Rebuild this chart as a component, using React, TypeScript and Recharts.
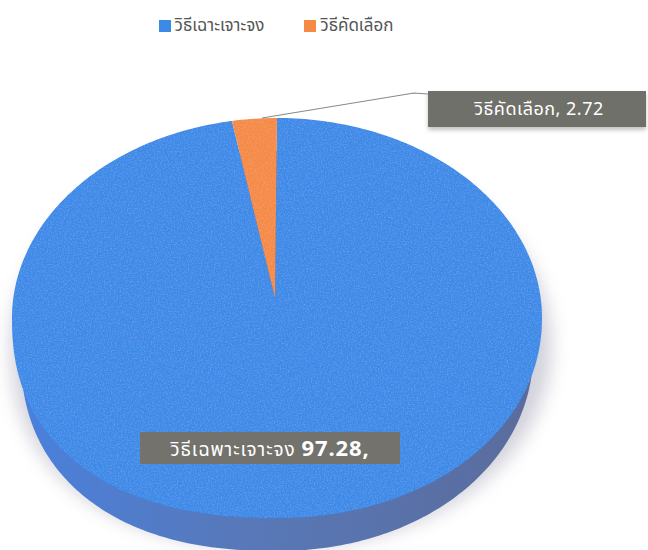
import React from "react";
import { PieChart, Pie, Legend } from "recharts";

const categories = ["วิธีเฉาะเจาะจง", "วิธีคัดเลือก"];
const values = [97.28, 2.72];
const colors = ["#3A8AE8", "#F58A45"];
const boxNames = ["วิธีเฉพาะเจาะจง", "วิธีคัดเลือก,"];
const boxValues = ["97.28,", "2.72"];

const data = categories.map((name, i) => ({ name, value: values[i], fill: colors[i] }));
const FONT = "'Noto Sans', 'Noto Sans Thai', 'DejaVu Sans', sans-serif";
const RATIO = 200 / 265;

function ellipseSector(p: any, ox: number, oy: number, ax: number, ay: number, rxScale: number, ryScale: number) {
  const rx = p.outerRadius * rxScale;
  const ry = p.outerRadius * RATIO * ryScale;
  const rad = Math.PI / 180;
  const cx = p.cx + ox;
  const cy = p.cy + oy;
  const pt = (a: number) => {
    const c = Math.cos(a * rad);
    const s = Math.sin(a * rad);
    // the photographed disc is fuller in its lower-left quarter
    const n = s >= 0 ? 2 : c < 0 ? 2.3 : 2.05;
    const e = 2 / n;
    return `${cx + rx * Math.sign(c) * Math.pow(Math.abs(c), e)},${cy - ry * Math.sign(s) * Math.pow(Math.abs(s), e)}`;
  };
  const pts: string[] = [];
  const step = p.endAngle < p.startAngle ? -1 : 1;
  for (let a = p.startAngle; step * (p.endAngle - a) > 0; a += step) pts.push(pt(a));
  pts.push(pt(p.endAngle));
  return `M${cx + ax},${cy + ay} L${pts.join(" L")} Z`;
}

const faceShape = (p: any) => (
  <path d={ellipseSector(p, 0, 0, -2, -20, 1, 1)} fill={p.fill} stroke="none" filter="url(#grain)" />
);

const rimShape = (p: any) => (
  <g>
    <path d={ellipseSector(p, 4, 26, 0, 0, 1.02, 1.02)} fill="#a4a4b8" opacity={0.5} filter="url(#soft)" />
    <path d={ellipseSector(p, 0, 33, 0, 0, 0.967, 1)} fill="url(#rim)" stroke="none" />
  </g>
);

const renderLabel = (p: any) => {
  const i = p.index;
  if (i === 1) {
    return (
      <g>
        <polyline points="262,118 414,93 428,94" fill="none" stroke="#8a8a84" strokeWidth={1.2} />
        <rect x={428} y={91} width={218} height={36} fill="#6F6F6A" filter="url(#boxShadow)" />
        <text x={539} y={115} textAnchor="middle" fontSize={18} letterSpacing={0.5} fill="#fff" fontFamily={FONT}>
          {boxNames[i]} {boxValues[i]}
        </text>
      </g>
    );
  }
  return (
    <g>
      <rect x={140} y={432} width={260} height={32} fill="#74726C" />
      <text x={270} y={456} textAnchor="middle" fontSize={19} letterSpacing={0.9} fill="#fff" fontFamily={FONT}>
        {boxNames[i]} <tspan fontSize={22} fontWeight={700}>{boxValues[i]}</tspan>
      </text>
    </g>
  );
};

export default function App() {
  return (
    <div style={{ position: "absolute", left: 0, top: 0, width: 648, height: 550, background: "#fff" }}>
      <PieChart width={648} height={550} margin={{ top: 0, right: 0, bottom: 0, left: 0 }}>
        <defs>
          <linearGradient id="rim" x1="0" y1="0" x2="1" y2="0">
            <stop offset="0%" stopColor="#4A80DC" />
            <stop offset="45%" stopColor="#5878B8" />
            <stop offset="100%" stopColor="#5A6C9C" />
          </linearGradient>
          <filter id="soft" x="-10%" y="-10%" width="120%" height="120%">
            <feGaussianBlur stdDeviation="9" />
          </filter>
          <filter id="boxShadow" x="-5%" y="-20%" width="110%" height="150%">
            <feDropShadow dx="0" dy="3" stdDeviation="2" floodColor="#999" floodOpacity="0.6" />
          </filter>
          <filter id="grain" x="0" y="0" width="100%" height="100%">
            <feTurbulence type="fractalNoise" baseFrequency="0.7" numOctaves="2" seed="4" result="n" />
            <feColorMatrix
              in="n"
              type="matrix"
              values="0 0 0 0 1  0 0 0 0 1  0 0 0 0 1  0 0 0 0.22 -0.09"
              result="w"
            />
            <feComposite in="w" in2="SourceGraphic" operator="in" result="s" />
            <feMerge>
              <feMergeNode in="SourceGraphic" />
              <feMergeNode in="s" />
            </feMerge>
          </filter>
        </defs>
        <Legend
          verticalAlign="top"
          iconType="square"
          iconSize={12}
          itemSorter={null as any}
          wrapperStyle={{ position: "absolute", top: 13, left: 146, width: 300, fontFamily: FONT, fontSize: 17 }}
          formatter={(v: string) => <span style={{ color: "#555", marginRight: 30 }}>{v}</span>}
        />
        <Pie
          data={data}
          dataKey="value"
          nameKey="name"
          cx={277}
          cy={292}
          outerRadius={265}
          startAngle={90}
          endAngle={-270}
          legendType="none"
          shape={rimShape}
          stroke="none"
          isAnimationActive={false}
        />
        <Pie
          data={data}
          dataKey="value"
          nameKey="name"
          cx={277}
          cy={292}
          outerRadius={265}
          startAngle={90}
          endAngle={-270}
          shape={faceShape}
          stroke="none"
          label={renderLabel}
          labelLine={false}
          isAnimationActive={false}
        />
      </PieChart>
    </div>
  );
}
